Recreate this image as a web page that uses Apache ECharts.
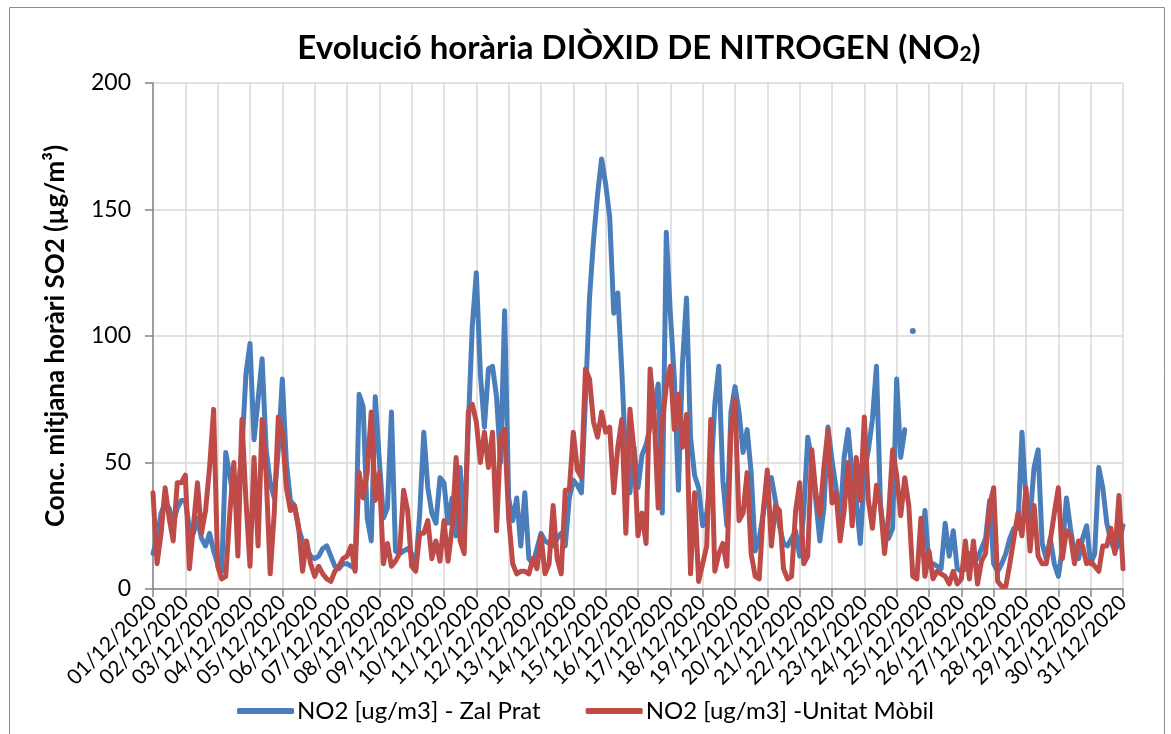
<!DOCTYPE html>
<html>
<head>
<meta charset="utf-8">
<script src="https://cdn.jsdelivr.net/npm/echarts@6/dist/echarts.min.js"></script>
<style>
  html, body { margin: 0; padding: 0; background: #fff; }
  #chart { width: 1171px; height: 734px; }
</style>
</head>
<body>
<div id="chart"></div>
<script>
// one tick label per day
const dateLabels = [
  '01/12/2020', '02/12/2020', '03/12/2020', '04/12/2020', '05/12/2020', '06/12/2020',
  '07/12/2020', '08/12/2020', '09/12/2020', '10/12/2020', '11/12/2020', '12/12/2020',
  '13/12/2020', '14/12/2020', '15/12/2020', '16/12/2020', '17/12/2020', '18/12/2020',
  '19/12/2020', '20/12/2020', '21/12/2020', '22/12/2020', '23/12/2020', '24/12/2020',
  '25/12/2020', '26/12/2020', '27/12/2020', '28/12/2020', '29/12/2020', '30/12/2020',
  '31/12/2020'
]

// readings every 3 hours (8 per day)
const stepsPerDay = 8

const zalPrat = [
  14, 20, 30, 34, 32, 26, 32, 35,
  35, 24, 22, 28, 20, 17, 22, 15,
  10, 7, 54, 45, 35, 38, 55, 85,
  97, 59, 75, 91, 55, 42, 36, 55,
  83, 50, 35, 33, 24, 19, 16, 13,
  12, 13, 16, 17, 13, 9, 8, 10,
  10, 9, 8, 77, 72, 28, 19, 76,
  51, 28, 32, 70, 15, 14, 15, 16,
  14, 8, 30, 62, 40, 30, 26, 44,
  42, 26, 36, 21, 48, 21, 64, 104,
  125, 85, 64, 87, 88, 76, 50, 110,
  36, 27, 36, 17, 38, 12, 10, 16,
  22, 19, 18, 17, 20, 22, 17, 36,
  43, 41, 38, 75, 115, 138, 156, 170,
  160, 147, 109, 117, 86, 50, 38, 56,
  40, 53, 57, 64, 72, 81, 30, 141,
  109, 83, 39, 89, 115, 60, 45, 40,
  25, 30, 43, 73, 88, 43, 25, 70,
  80, 70, 54, 63, 46, 15, 20, 30,
  40, 44, 35, 25, 18, 17, 20, 23,
  13, 30, 60, 51, 35, 19, 32, 64,
  51, 40, 26, 52, 63, 45, 35, 18,
  46, 55, 67, 88, 33, 20, 20, 24,
  83, 52, 63, null, 102, null, 15, 31,
  9, 10, 9, 8, 26, 13, 23, 8,
  7, 8, 14, 12, 12, 16, 20, 35,
  10, 7, 10, 14, 20, 24, 24, 62,
  35, 28, 48, 55, 18, 12, 20, 10,
  5, 16, 36, 24, 14, 12, 20, 25,
  10, 14, 48, 40, 26, 19, 15, 18,
  25
]

const unitatMobil = [
  38, 10, 22, 40, 28, 19, 42, 42,
  45, 8, 25, 42, 22, 31, 48, 71,
  9, 4, 5, 30, 50, 13, 67, 35,
  9, 52, 17, 67, 45, 6, 30, 68,
  62, 40, 31, 33, 25, 7, 19, 10,
  5, 9, 6, 4, 3, 7, 9, 12,
  13, 17, 7, 46, 36, 46, 70, 35,
  46, 10, 18, 9, 11, 14, 39, 31,
  9, 7, 22, 22, 27, 12, 19, 11,
  27, 11, 24, 52, 19, 14, 70, 73,
  66, 50, 62, 48, 62, 23, 60, 63,
  28, 10, 6, 7, 7, 6, 12, 8,
  21, 6, 10, 33, 12, 6, 39, 39,
  62, 47, 44, 87, 83, 66, 60, 70,
  62, 64, 38, 56, 67, 22, 71, 55,
  21, 30, 18, 87, 69, 32, 66, 80,
  88, 63, 77, 56, 69, 6, 38, 3,
  10, 17, 67, 7, 14, 18, 9, 63,
  75, 27, 30, 46, 14, 5, 4, 31,
  47, 17, 33, 31, 8, 4, 5, 31,
  42, 10, 13, 55, 38, 29, 48, 63,
  34, 38, 19, 31, 50, 25, 52, 35,
  68, 35, 24, 41, 33, 14, 29, 55,
  45, 29, 44, 33, 5, 4, 28, 5,
  15, 4, 7, 6, 5, 2, 7, 2,
  4, 19, 4, 19, 2, 11, 14, 33,
  40, 3, 1, 1, 10, 20, 30, 21,
  40, 15, 33, 13, 10, 10, 19, 30,
  40, 12, 23, 21, 10, 19, 17, 10,
  11, 9, 7, 17, 17, 24, 14, 37,
  8
]

const seriesNames = ['NO2 [ug/m3] - Zal Prat', 'NO2 [ug/m3] -Unitat Mòbil']
const colors = ['#4a7ebb', '#be4b48']
const font = 'Lato, "Noto Sans", sans-serif'

// x in days since 01/12; a lone reading (nulls on both sides) gets a dot
function toPoints(values) {
  return values.map((v, i) => {
    const lone = v != null && values[i - 1] == null && values[i + 1] == null && i > 0
    const item = { value: [i / stepsPerDay, v] }
    if (lone) {
      item.symbol = 'circle'
      item.symbolSize = 6
    }
    return item
  })
}

const chart = echarts.init(document.getElementById('chart'))

const option = {
  animation: false,
  color: colors,
  title: {
    text: '{t|Evolució horària DIÒXID DE NITROGEN (NO}{s|2}{t|)}',
    left: 634,
    top: 22,
    textAlign: 'center',
    textStyle: {
      rich: {
        t: { fontFamily: font, fontWeight: 'bold', fontSize: 33, color: '#000', lineHeight: 38, verticalAlign: 'bottom' },
        s: { fontFamily: font, fontWeight: 'bold', fontSize: 21, color: '#000', lineHeight: 12, verticalAlign: 'bottom' },
      },
    },
  },
  legend: {
    bottom: 6,
    left: 'center',
    itemWidth: 57,
    itemHeight: 6,
    itemGap: 45,
    icon: 'roundRect',
    textStyle: { fontFamily: font, fontSize: 24, color: '#000', padding: [0, 0, 0, -2] },
    data: seriesNames,
  },
  grid: { left: 153, right: 48, top: 83, bottom: 145 },
  xAxis: {
    type: 'value',
    min: 0,
    max: dateLabels.length - 1,
    interval: 1,
    axisLine: { lineStyle: { color: '#868686', width: 1.5 } },
    axisTick: { length: 8, lineStyle: { color: '#868686', width: 1.5 } },
    splitLine: { show: true, lineStyle: { color: '#d9d9d9', width: 1.5 } },
    axisLabel: {
      rotate: 45,
      margin: 10,
      fontFamily: font,
      fontSize: 21,
      color: '#000',
      showMaxLabel: true,
      showMinLabel: true,
      formatter: (v) => dateLabels[Math.round(v)],
    },
  },
  yAxis: {
    type: 'value',
    min: 0,
    max: 200,
    interval: 50,
    name: 'Conc. mitjana horàri SO2 (µg/m³)',
    nameLocation: 'middle',
    nameGap: 84,
    nameTextStyle: { fontFamily: font, fontWeight: 'bold', fontSize: 26, color: '#000' },
    axisLine: { show: true, lineStyle: { color: '#868686', width: 1.5 } },
    axisTick: { show: true, length: 8, lineStyle: { color: '#868686', width: 1.5 } },
    splitLine: { lineStyle: { color: '#d9d9d9', width: 1.5 } },
    axisLabel: { fontFamily: font, fontSize: 23, color: '#000', margin: 22 },
  },
  graphic: [
    {
      type: 'rect',
      left: 7,
      top: 5,
      shape: { width: 1155, height: 740 },
      style: { fill: 'none', stroke: '#8c8c8c', lineWidth: 1 },
      silent: true,
    },
  ],
  series: [
    {
      name: seriesNames[0],
      type: 'line',
      data: toPoints(zalPrat),
      symbol: 'none',
      showSymbol: true,
      connectNulls: false,
      lineStyle: { width: 5, color: colors[0], cap: 'round', join: 'round' },
      itemStyle: { color: colors[0] },
    },
    {
      name: seriesNames[1],
      type: 'line',
      data: toPoints(unitatMobil),
      symbol: 'none',
      showSymbol: true,
      connectNulls: false,
      lineStyle: { width: 5, color: colors[1], cap: 'round', join: 'round' },
      itemStyle: { color: colors[1] },
    },
  ],
}

chart.setOption(option)
window.addEventListener('resize', () => chart.resize())
</script>
</body>
</html>
